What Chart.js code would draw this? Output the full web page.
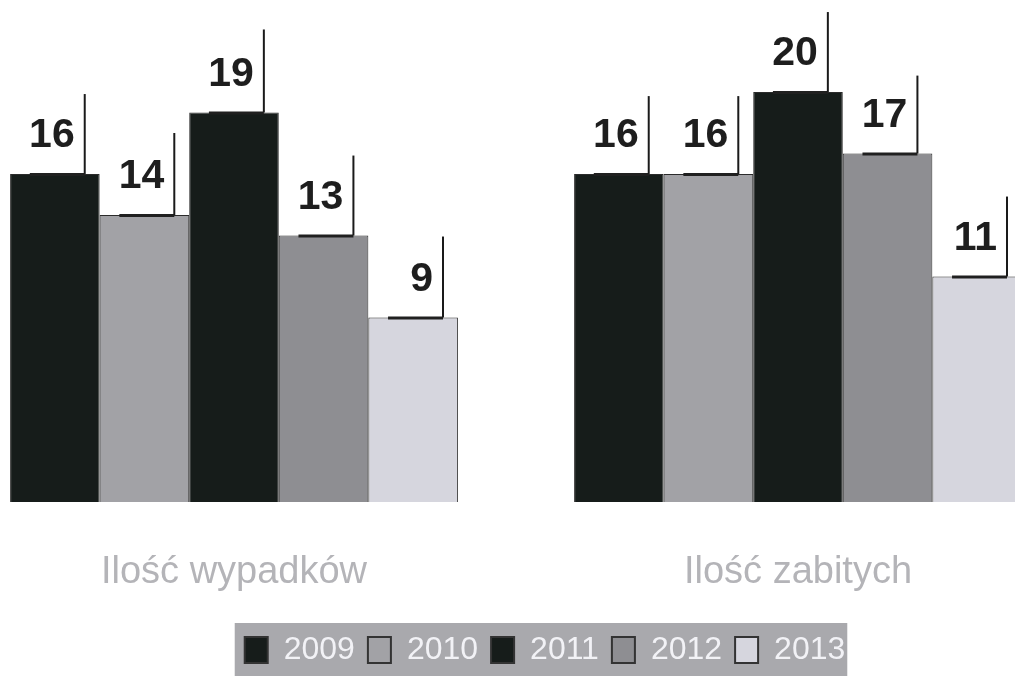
<!DOCTYPE html>
<html lang="pl">
<head>
<meta charset="utf-8">
<title>Wypadki 2009-2013</title>
<script src="https://cdn.jsdelivr.net/npm/chart.js@4.4.1/dist/chart.umd.min.js"></script>
<style>
  html, body { margin: 0; padding: 0; background: #fff; }
  /* płótno jest szersze od okna i przesunięte w lewo, bo lewa grupa słupków zaczyna się tuż przy krawędzi */
  #ramka { position: relative; width: 1015px; height: 676px; overflow: hidden; }
  #wykres { position: absolute; left: -48px; top: 0; width: 1128px; height: 676px; }
</style>
</head>
<body>
<div id="ramka"><canvas id="wykres" width="1128" height="676"></canvas></div>
<script>
// Dane
const kategorie = ['Ilość wypadków', 'Ilość zabitych'];
const lata = ['2009', '2010', '2011', '2012', '2013'];
const seria2009 = [16, 16];
const seria2010 = [14, 16];
const seria2011 = [19, 20];
const seria2012 = [13, 17];
const seria2013 = [9, 11];
// długość "wąsów" nad słupkami (w jednostkach osi)
const wasy2009 = [3.9, 3.8];
const wasy2010 = [4.0, 3.8];
const wasy2011 = [4.05, 3.9];
const wasy2012 = [3.9, 3.8];
const wasy2013 = [3.95, 3.9];

const kolory = ['#161c1a', '#a2a2a6', '#161c1a', '#8e8e92', '#d6d6de'];
const FONT = '"Liberation Sans", Arial, sans-serif';

const serie = [seria2009, seria2010, seria2011, seria2012, seria2013];
const wasy = [wasy2009, wasy2010, wasy2011, wasy2012, wasy2013];

// Wąsy, wartości i ciemny pasek na górze słupka
const etykietyPlugin = {
    id: 'etykiety',
    afterDatasetsDraw(chart) {
        const ctx = chart.ctx;
        const y = chart.scales.y;
        ctx.save();
        chart.data.datasets.forEach((ds, di) => {
            chart.getDatasetMeta(di).data.forEach((bar, i) => {
                const v = ds.data[i];
                const xl = bar.x + bar.width / 3;
                const gora = y.getPixelForValue(v + wasy[di][i]);

                ctx.fillStyle = '#202020';
                ctx.fillRect(bar.x - bar.width * 0.28, bar.y - 1, xl - (bar.x - bar.width * 0.28), 3);

                ctx.strokeStyle = '#1a1a1a';
                ctx.lineWidth = 2;
                ctx.beginPath();
                ctx.moveTo(xl, bar.y);
                ctx.lineTo(xl, gora);
                ctx.stroke();

                ctx.fillStyle = '#1e1e1e';
                ctx.font = 'bold 41px ' + FONT;
                ctx.textAlign = 'right';
                ctx.textBaseline = 'alphabetic';
                ctx.fillText(String(v), xl - 10, bar.y - 27);
            });
        });
        ctx.restore();
    }
};

// Szare tło legendy + przesunięcie legendy w prawo
const tloLegendy = {
    id: 'tloLegendy',
    afterLayout(chart) {
        chart.legend.left += 29;
        chart.legend.right += 29;
    },
    beforeDraw(chart) {
        const lg = chart.legend;
        const hb = lg.legendHitBoxes;
        if (!hb || !hb.length) return;
        const ctx = chart.ctx;
        const ost = hb[hb.length - 1];
        ctx.save();
        ctx.fillStyle = '#a9a9ad';
        ctx.fillRect(hb[0].left - 10, 623, ost.left + ost.width - hb[0].left + 12, chart.height - 623);
        ctx.restore();
    }
};

new Chart(document.getElementById('wykres'), {
    type: 'bar',
    data: {
        labels: kategorie,
        datasets: lata.map((rok, i) => ({
            label: rok,
            data: serie[i],
            backgroundColor: kolory[i],
            borderColor: '#2b2b2b',
            borderWidth: 1,
            categoryPercentage: 0.794,
            barPercentage: 1
        }))
    },
    options: {
        responsive: false,
        animation: false,
        devicePixelRatio: 1,
        layout: { padding: { top: 10, left: 0, right: 0, bottom: 0 } },
        plugins: {
            tooltip: { enabled: false },
            legend: {
                position: 'bottom',
                labels: {
                    boxWidth: 23,
                    boxHeight: 26,
                    padding: 13,
                    color: '#f2f2f6',
                    font: { family: FONT, size: 32 },
                    generateLabels(chart) {
                        const items = Chart.defaults.plugins.legend.labels.generateLabels(chart);
                        items.forEach(it => { it.lineWidth = 2; it.strokeStyle = '#333'; });
                        return items;
                    }
                }
            }
        },
        scales: {
            x: {
                offset: true,
                grid: { display: false },
                border: { display: false },
                ticks: {
                    color: '#b4b4b8',
                    padding: 40,
                    font: { family: FONT, size: 38 }
                },
                afterFit(scale) { scale.height = 119; }
            },
            y: {
                display: false,
                min: 0,
                max: 24
            }
        }
    },
    plugins: [etykietyPlugin, tloLegendy]
});
</script>
</body>
</html>
